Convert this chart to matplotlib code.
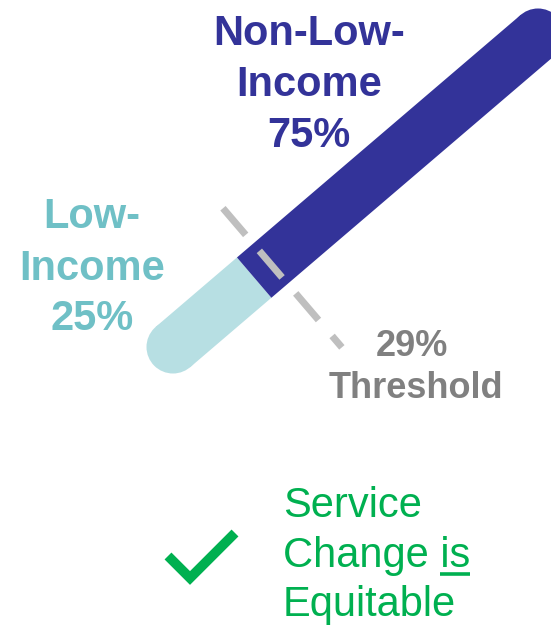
"""
Equity check for a service change: low-income vs non-low-income share
drawn as a single rounded bar against a dashed threshold marker.
"""

import numpy as np
import matplotlib
matplotlib.use("Agg")
import matplotlib.pyplot as plt
from matplotlib.patches import Circle

# Shares of riders affected by the change (percent)
group_labels = [["Low-", "Income"], ["Non-Low-", "Income"]]
group_shares = [25, 75]
threshold = 29
verdict_lines = ["Service", "Change is", "Equitable"]

DARK = "#333399"
LIGHT = "#b7dfe3"
LIGHT_TEXT = "#6fc0c6"
DASH = "#bfbfbf"
GREY_TEXT = "#808080"
GREEN = "#00b050"

plt.rcParams["font.family"] = ["Liberation Sans", "DejaVu Sans"]

W, H, DPI = 551, 626, 100
fig = plt.figure(figsize=(W / DPI, H / DPI), dpi=DPI)
ax = fig.add_axes([0, 0, 1, 1])
ax.set_xlim(0, W)
ax.set_ylim(H, 0)
ax.axis("off")

# bar geometry in pixel units (cap centres and thickness)
cap_a = np.array([173.0, 347.0])
cap_b = np.array([538.0, 35.0])
bar_w = 53.0
r = bar_w / 2
u = (cap_b - cap_a) / np.linalg.norm(cap_b - cap_a)
perp = np.array([-u[1], u[0]])  # points down-right
tip_a = cap_a - u * r
tip_b = cap_b + u * r

def along(pct):
    return tip_a + (tip_b - tip_a) * pct / 100.0

lw_pt = bar_w * 72 / DPI
split = along(group_shares[0])

# light segment with rounded left end
ax.plot([cap_a[0], split[0]], [cap_a[1], split[1]], color=LIGHT, lw=lw_pt,
        solid_capstyle="butt", zorder=2)
ax.add_patch(Circle(cap_a, r, color=LIGHT, lw=0, zorder=2))
# dark segment with rounded right end
ax.plot([split[0], cap_b[0]], [split[1], cap_b[1]], color=DARK, lw=lw_pt,
        solid_capstyle="butt", zorder=2)
ax.add_patch(Circle(cap_b, r, color=DARK, lw=0, zorder=2))

# dashed threshold marker across the bar
tp = along(threshold)
d0 = tp - perp * 73
d1 = tp + perp * 110
dash_lw = 7 * 72 / DPI
ax.plot([d0[0], d1[0]], [d0[1], d1[1]], color=DASH, lw=dash_lw,
        dashes=(5.0, 3.0), dash_capstyle="butt", zorder=3)

def stacked(lines, x, baselines, **kw):
    out = []
    for s, y in zip(lines, baselines):
        out.append(ax.text(x, y, s, va="baseline", **kw))
    return out

stacked(group_labels[1] + [f"{group_shares[1]}%"], 309, [45, 96, 147],
        ha="center", fontsize=30, fontweight="bold", color=DARK)
stacked(group_labels[0] + [f"{group_shares[0]}%"], 92, [228, 280, 330],
        ha="center", fontsize=30, fontweight="bold", color=LIGHT_TEXT)
ax.text(412, 356, f"{threshold}%", ha="center", va="baseline",
        fontsize=26, fontweight="bold", color=GREY_TEXT)
ax.text(416, 398, "Threshold", ha="center", va="baseline",
        fontsize=26, fontweight="bold", color=GREY_TEXT)

# verdict text with underlined "is"
vt = stacked(verdict_lines, 283, [517, 567, 616], ha="left",
             fontsize=30, color=GREEN)
fig.canvas.draw()
rend = fig.canvas.get_renderer()
inv = ax.transData.inverted()
bb = vt[1].get_window_extent(rend)
tmp = ax.text(0, 0, "is", fontsize=30)
w_is = tmp.get_window_extent(rend).width
tmp.remove()
x_end = inv.transform((bb.x1, 0))[0]
x_start = inv.transform((bb.x1 - w_is, 0))[0]
ax.plot([x_start, x_end], [574, 574], color=GREEN, lw=2.6,
        solid_capstyle="butt")

# check mark
ax.plot([168, 190, 235], [556, 578, 533], color=GREEN, lw=7,
        solid_joinstyle="miter", solid_capstyle="butt")

fig.savefig("out.png", dpi=DPI)
